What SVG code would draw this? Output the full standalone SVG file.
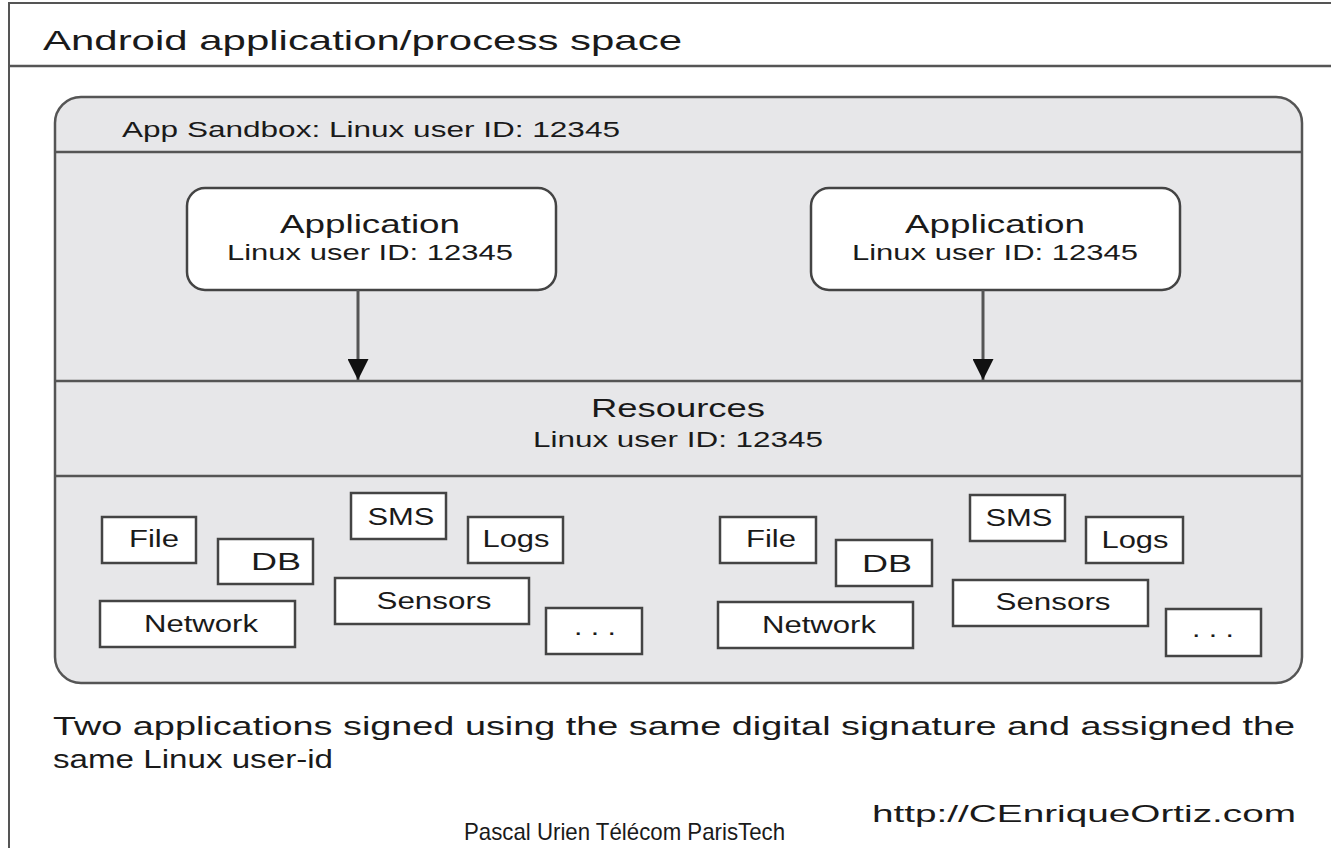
<svg xmlns="http://www.w3.org/2000/svg" width="1331" height="848" viewBox="0 0 1331 848">
<style>
text{font-family:"Liberation Sans",Arial,sans-serif;fill:#1a1a1a}
.frame{fill:none;stroke:#555;stroke-width:2}
.sep{stroke:#555;stroke-width:2.5}
.res{fill:#fff;stroke:#444;stroke-width:2.5}
.app{fill:#fff;stroke:#444;stroke-width:2.5}
.rt{font-size:23px;text-anchor:middle}
.conn{stroke:#555;stroke-width:3;fill:none}
</style>
<defs>
<marker id="ah" viewBox="0 0 10 10" refX="10" refY="5" markerWidth="7" markerHeight="7" markerUnits="strokeWidth" orient="auto">
<path d="M0,0 L10,5 L0,10 z" fill="#111"/>
</marker>
</defs>
<rect width="1331" height="848" fill="#fff"/>
<g id="frame">
<path class="frame" d="M1340,3 H9 V860"/>
<line class="sep" x1="9" y1="66" x2="1340" y2="66"/>
<text x="43" y="50" font-size="28" textLength="639" lengthAdjust="spacingAndGlyphs">Android application/process space</text>
</g>
<g id="sandbox">
<rect x="55" y="97" width="1247" height="586" rx="26" fill="#e7e7e9" stroke="#555" stroke-width="2.5"/>
<line class="sep" x1="55" y1="152" x2="1302" y2="152"/>
<line class="sep" x1="55" y1="381" x2="1302" y2="381"/>
<line class="sep" x1="55" y1="476" x2="1302" y2="476"/>
<text x="122" y="137" font-size="22" textLength="498" lengthAdjust="spacingAndGlyphs">App Sandbox: Linux user ID: 12345</text>
</g>
<g id="app1">
<rect class="app" x="187" y="188" width="369" height="102" rx="18"/>
<text x="370" y="233" font-size="26" text-anchor="middle" textLength="180" lengthAdjust="spacingAndGlyphs">Application</text>
<text x="370" y="260" font-size="22" text-anchor="middle" textLength="286" lengthAdjust="spacingAndGlyphs">Linux user ID: 12345</text>
</g>
<g id="app2">
<rect class="app" x="811" y="188" width="369" height="102" rx="18"/>
<text x="995" y="233" font-size="26" text-anchor="middle" textLength="180" lengthAdjust="spacingAndGlyphs">Application</text>
<text x="995" y="260" font-size="22" text-anchor="middle" textLength="286" lengthAdjust="spacingAndGlyphs">Linux user ID: 12345</text>
</g>
<g id="resources">
<text x="678" y="417" font-size="26" text-anchor="middle" textLength="174" lengthAdjust="spacingAndGlyphs">Resources</text>
<text x="678" y="447" font-size="22" text-anchor="middle" textLength="290" lengthAdjust="spacingAndGlyphs">Linux user ID: 12345</text>
</g>
<g id="connectors">
<line class="conn" x1="358" y1="290" x2="358" y2="380" marker-end="url(#ah)"/>
<line class="conn" x1="983" y1="290" x2="983" y2="380" marker-end="url(#ah)"/>
</g>
<g id="res-left">
<g id="file1"><rect class="res" x="102" y="517" width="94" height="46"/><text class="rt" x="154" y="547" textLength="50" lengthAdjust="spacingAndGlyphs">File</text></g>
<g id="db1"><rect class="res" x="218" y="539" width="95" height="45"/><text class="rt" x="276" y="570" textLength="50" lengthAdjust="spacingAndGlyphs">DB</text></g>
<g id="sms1"><rect class="res" x="351" y="493" width="95" height="46"/><text class="rt" x="401" y="525" textLength="67" lengthAdjust="spacingAndGlyphs">SMS</text></g>
<g id="logs1"><rect class="res" x="468" y="517" width="95" height="46"/><text class="rt" x="516" y="547" textLength="67" lengthAdjust="spacingAndGlyphs">Logs</text></g>
<g id="net1"><rect class="res" x="100" y="601" width="195" height="46"/><text class="rt" x="201" y="632" textLength="114" lengthAdjust="spacingAndGlyphs">Network</text></g>
<g id="sens1"><rect class="res" x="335" y="578" width="194" height="46"/><text class="rt" x="434" y="609" textLength="115" lengthAdjust="spacingAndGlyphs">Sensors</text></g>
<g id="more1"><rect class="res" x="546" y="608" width="96" height="46"/><text class="rt" x="595" y="635" textLength="42" lengthAdjust="spacingAndGlyphs">. . .</text></g>
</g>
<g id="res-right">
<g id="file2"><rect class="res" x="720" y="517" width="96" height="46"/><text class="rt" x="771" y="547" textLength="50" lengthAdjust="spacingAndGlyphs">File</text></g>
<g id="db2"><rect class="res" x="836" y="540" width="96" height="46"/><text class="rt" x="887" y="572" textLength="50" lengthAdjust="spacingAndGlyphs">DB</text></g>
<g id="sms2"><rect class="res" x="970" y="495" width="95" height="46"/><text class="rt" x="1019" y="526" textLength="67" lengthAdjust="spacingAndGlyphs">SMS</text></g>
<g id="logs2"><rect class="res" x="1086" y="517" width="97" height="46"/><text class="rt" x="1135" y="548" textLength="67" lengthAdjust="spacingAndGlyphs">Logs</text></g>
<g id="net2"><rect class="res" x="718" y="602" width="195" height="46"/><text class="rt" x="819" y="633" textLength="114" lengthAdjust="spacingAndGlyphs">Network</text></g>
<g id="sens2"><rect class="res" x="953" y="580" width="195" height="46"/><text class="rt" x="1053" y="610" textLength="115" lengthAdjust="spacingAndGlyphs">Sensors</text></g>
<g id="more2"><rect class="res" x="1166" y="609" width="95" height="47"/><text class="rt" x="1213" y="637" textLength="42" lengthAdjust="spacingAndGlyphs">. . .</text></g>
</g>
<g id="footer">
<text x="53" y="735" font-size="26" textLength="1242" lengthAdjust="spacingAndGlyphs">Two applications signed using the same digital signature and assigned the</text>
<text x="53" y="768" font-size="26" textLength="280" lengthAdjust="spacingAndGlyphs">same Linux user-id</text>
<text x="872" y="822" font-size="24" textLength="424" lengthAdjust="spacingAndGlyphs">http://CEnriqueOrtiz.com</text>
<text x="464" y="840" font-size="24" font-family="Lato, sans-serif" textLength="321" lengthAdjust="spacingAndGlyphs">Pascal Urien Télécom ParisTech</text>
</g>
</svg>
